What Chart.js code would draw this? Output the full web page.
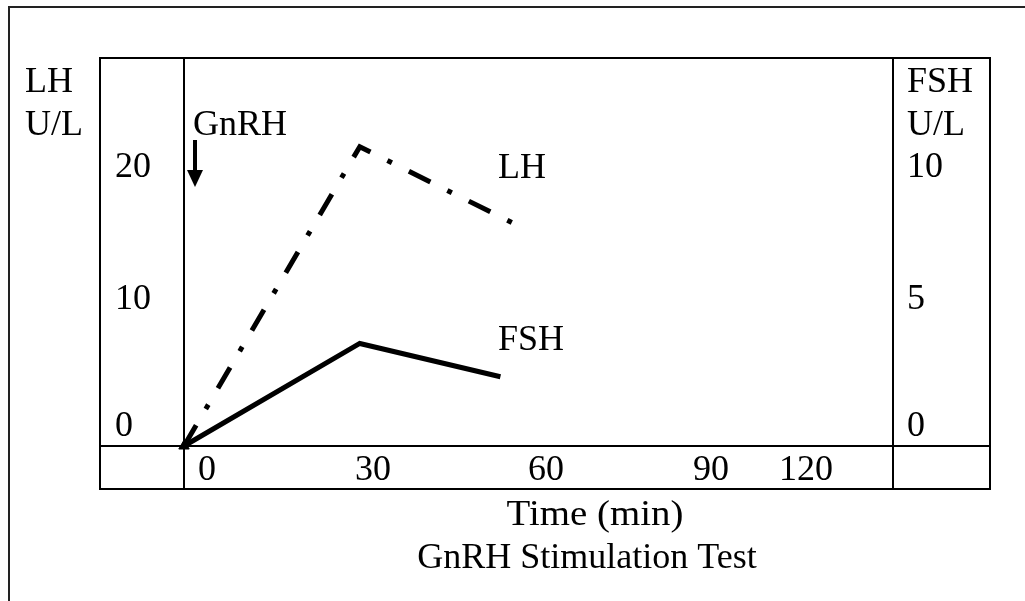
<!DOCTYPE html>
<html><head><meta charset="utf-8">
<script src="https://cdn.jsdelivr.net/npm/chart.js@4.4.0/dist/chart.umd.min.js"></script>
<style>html,body{margin:0;padding:0;background:#fff;overflow:hidden}#wrap{width:1025px;height:601px;position:relative}</style>
</head><body><div id="wrap"><canvas id="c" width="1025" height="601"></canvas></div>
<script>
// ---- data ----
const lhTime = [0, 30, 57];
const lhValues = [0, 21.6, 15.9];
const fshTime = [0, 30, 54];
const fshValues = [0, 3.7, 2.5];
const xTickLabels = ['0', '30', '60', '90', '120'];
const lhTickLabels = ['20', '10', '0'];
const fshTickLabels = ['10', '5', '0'];
const lhAxisTitle = ['LH', 'U/L'];
const fshAxisTitle = ['FSH', 'U/L'];
const seriesNames = ['LH', 'FSH'];
const markerText = 'GnRH';
const xTitle = 'Time (min)';
const chartTitle = 'GnRH Stimulation Test';

const FONT = '36px "Liberation Serif", "Times New Roman", serif';

const framePlugin = {
  id: 'frame',
  beforeDraw(chart) {
    const ctx = chart.ctx;
    ctx.save();
    ctx.fillStyle = '#fff';
    ctx.fillRect(0, 0, chart.width, chart.height);
    ctx.restore();
  },
  beforeDatasetsDraw(chart) {
    const ctx = chart.ctx;
    const a = chart.chartArea;
    ctx.save();
    // outer page frame (top + left)
    ctx.strokeStyle = '#222';
    ctx.lineWidth = 2;
    ctx.beginPath();
    ctx.moveTo(9, 601); ctx.lineTo(9, 7); ctx.lineTo(1025, 7);
    ctx.stroke();
    // table box
    ctx.strokeStyle = '#000';
    ctx.lineWidth = 2;
    const L = 100, R = 990, T = a.top, B = 489;
    ctx.strokeRect(L, T, R - L, B - T);
    ctx.beginPath();
    ctx.moveTo(a.left, T); ctx.lineTo(a.left, B);
    ctx.moveTo(a.right, T); ctx.lineTo(a.right, B);
    ctx.moveTo(L, a.bottom); ctx.lineTo(R, a.bottom);
    ctx.stroke();

    // texts
    ctx.fillStyle = '#000';
    ctx.font = FONT;
    ctx.textBaseline = 'alphabetic';
    ctx.textAlign = 'left';
    ctx.fillText(lhAxisTitle[0], 25, 92);
    ctx.fillText(lhAxisTitle[1], 25, 135);
    ctx.fillText(fshAxisTitle[0], 907, 92);
    ctx.fillText(fshAxisTitle[1], 907, 135);
    const yBase = [177, 309, 436];
    lhTickLabels.forEach((t, i) => ctx.fillText(t, 115, yBase[i]));
    fshTickLabels.forEach((t, i) => ctx.fillText(t, 907, yBase[i]));
    const xLeft = [198, 355, 528, 693, 779];
    xTickLabels.forEach((t, i) => ctx.fillText(t, xLeft[i], 480));
    ctx.fillText(markerText, 193, 135);
    ctx.fillText(seriesNames[0], 498, 178);
    ctx.fillText(seriesNames[1], 498, 350);
    ctx.textAlign = 'center';
    ctx.save();
    ctx.translate(595, 525);
    ctx.scale(1.08, 1);
    ctx.fillText(xTitle, 0, 0);
    ctx.restore();
    ctx.fillText(chartTitle, 587, 568);

    // GnRH arrow
    ctx.lineWidth = 4;
    ctx.beginPath();
    ctx.moveTo(195, 140); ctx.lineTo(195, 172);
    ctx.stroke();
    ctx.beginPath();
    ctx.moveTo(187, 170); ctx.lineTo(203, 170); ctx.lineTo(195, 187); ctx.closePath();
    ctx.fill();
    ctx.restore();
  }
};

const ctx = document.getElementById('c').getContext('2d');
new Chart(ctx, {
  type: 'line',
  data: {
    datasets: [
      {
        label: seriesNames[0],
        data: lhTime.map((t, i) => ({ x: t, y: lhValues[i] })),
        yAxisID: 'yL',
        borderColor: '#000',
        borderWidth: 5,
        borderDash: [24, 19, 5, 19],
        borderCapStyle: 'butt',
        borderJoinStyle: 'miter',
        pointRadius: 0,
        tension: 0,
        clip: false
      },
      {
        label: seriesNames[1],
        data: fshTime.map((t, i) => ({ x: t, y: fshValues[i] })),
        yAxisID: 'yR',
        borderColor: '#000',
        backgroundColor: '#000',
        borderWidth: 5,
        borderJoinStyle: 'miter',
        pointStyle: 'triangle',
        pointRadius: [6, 0, 0],
        pointRotation: 240,
        pointBackgroundColor: '#000',
        pointBorderWidth: 1,
        tension: 0,
        clip: false
      }
    ]
  },
  options: {
    responsive: false,
    animation: false,
    devicePixelRatio: 1,
    layout: { padding: { left: 184, top: 58, right: 132, bottom: 155 } },
    plugins: { legend: { display: false }, tooltip: { enabled: false }, title: { display: false } },
    scales: {
      x: { type: 'linear', min: 0, max: 121, display: false },
      yL: { type: 'linear', position: 'left', min: 0, max: 28, display: false },
      yR: { type: 'linear', position: 'right', min: 0, max: 14, display: false }
    }
  },
  plugins: [framePlugin]
});
</script>
</body></html>
